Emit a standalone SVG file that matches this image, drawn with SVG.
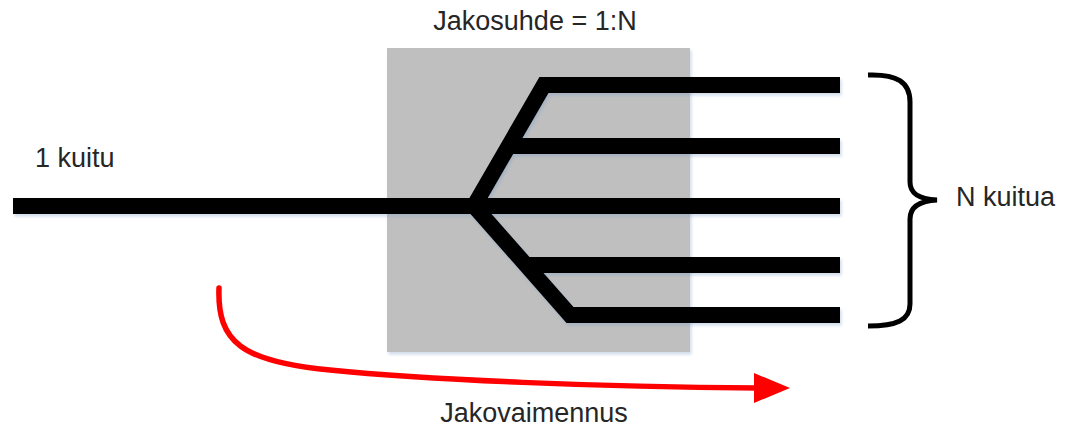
<svg xmlns="http://www.w3.org/2000/svg" width="1073" height="430" viewBox="0 0 1073 430">
  <style>
    .lbl { font-family: "Liberation Sans", Arial, sans-serif; font-size: 27px; fill: #262626; }
    .fiber { fill: none; stroke: #000; stroke-width: 16; stroke-linejoin: miter; stroke-miterlimit: 10; }
  </style>
  <defs>
    <filter id="sh" x="-5%" y="-20%" width="110%" height="140%">
      <feDropShadow dx="1.5" dy="2.5" stdDeviation="1.5" flood-color="#7a9cc6" flood-opacity="0.35"/>
    </filter>
  </defs>
  <rect width="1073" height="430" fill="#fff"/>

  <g id="splitter">
    <rect x="387" y="48" width="303" height="304" fill="#bfbfbf" filter="url(#sh)"/>
  </g>

  <g id="connectors" filter="url(#sh)">
    <path class="fiber" d="M13,206 H840"/>
    <path class="fiber" d="M840,85 H544 L474,206 L570,315 H840"/>
    <path class="fiber" d="M508,146 H840"/>
    <path class="fiber" d="M524,265 H840"/>
  </g>

  <g id="brace">
    <path d="M868,75 C897,74 910,82 910,102 V182 C910,193 918,199 937,200 C918,201 910,208 910,219 V304 C910,320 897,326 868,326" fill="none" stroke="#000" stroke-width="5"/>
  </g>

  <g id="loss-arrow">
    <path d="M219,288 C217,342 242,362 330,370 C430,380 600,387 758,388" fill="none" stroke="#ff0000" stroke-width="5.5" stroke-linecap="round"/>
    <polygon points="754,373 790,388 754,403" fill="#ff0000"/>
  </g>

  <g id="labels">
    <text class="lbl" x="535" y="30" text-anchor="middle">Jakosuhde = 1:N</text>
    <text class="lbl" x="35" y="167">1 kuitu</text>
    <text class="lbl" x="956" y="206">N kuitua</text>
    <text class="lbl" x="534" y="422" text-anchor="middle">Jakovaimennus</text>
  </g>
</svg>
